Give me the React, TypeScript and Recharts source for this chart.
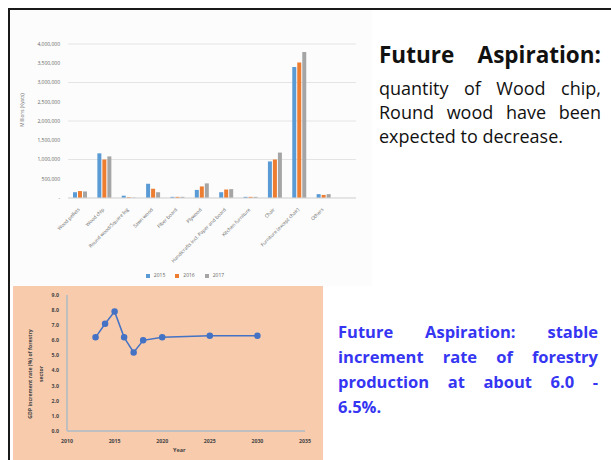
import React from 'react';
import { BarChart, Bar, XAxis, YAxis, CartesianGrid, Legend, LineChart, Line } from 'recharts';

const categories = [
  'Wood pellets',
  'Wood chip',
  'Round wood/Square log',
  'Sawn wood',
  'Fiber board',
  'Plywood',
  'Handicrafts incl. Paper and board',
  'Kitchen furniture',
  'Chair',
  'Furniture (except chair)',
  'Others',
];
const values2015 = [150000, 1160000, 60000, 370000, 30000, 210000, 150000, 30000, 950000, 3400000, 100000];
const values2016 = [180000, 1000000, 20000, 240000, 30000, 300000, 220000, 30000, 1000000, 3520000, 80000];
const values2017 = [170000, 1080000, 10000, 150000, 30000, 380000, 230000, 30000, 1180000, 3790000, 100000];
const barTicks = [0, 500000, 1000000, 1500000, 2000000, 2500000, 3000000, 3500000, 4000000];

const years = [2013, 2014, 2015, 2016, 2017, 2018, 2020, 2025, 2030];
const gdpRate = [6.2, 7.1, 7.9, 6.2, 5.2, 6.0, 6.2, 6.3, 6.3];
const yearTicks = [2010, 2015, 2020, 2025, 2030, 2035];
const rateTicks = [0, 1, 2, 3, 4, 5, 6, 7, 8, 9];

const barData = categories.map((c, i) => ({
  name: c,
  y2015: values2015[i],
  y2016: values2016[i],
  y2017: values2017[i],
}));
const lineData = years.map((y, i) => ({ year: y, rate: gdpRate[i] }));

const font = '"Open Sans", "Noto Sans", sans-serif';

const RotTick = (props: any) => {
  const { x, y, payload } = props;
  return (
    <g transform={`translate(${x},${y + 4})`}>
      <text transform="rotate(-45)" textAnchor="end" fontSize={4.8} fill="#666" fontFamily={font}>
        {payload.value}
      </text>
    </g>
  );
};

const lineStyle = (last: boolean): React.CSSProperties => ({
  textAlign: 'justify',
  textAlignLast: last ? 'left' : 'justify',
  whiteSpace: 'nowrap',
});

export default function App() {
  return (
    <div style={{ position: 'fixed', left: 0, top: 0, width: 611, height: 460, background: '#fff', overflow: 'hidden', fontFamily: font }}>
      {/* frame */}
      <div style={{ position: 'absolute', left: 8, top: 8, width: 603, height: 2, background: '#1a1a1a' }} />
      <div style={{ position: 'absolute', left: 8, top: 8, width: 2, height: 452, background: '#1a1a1a' }} />

      {/* top chart */}
      <div style={{ position: 'absolute', left: 10, top: 10, width: 362, height: 276, background: '#fcfcfc' }}>
        <BarChart
          width={362}
          height={276}
          data={barData}
          margin={{ top: 34, right: 16, left: 8, bottom: 27 }}
          barSize={4}
          barGap={1}
        >
          <CartesianGrid vertical={false} stroke="#e4e4e4" strokeWidth={1} />
          <XAxis
            dataKey="name"
            interval={0}
            tick={<RotTick />}
            tickLine={false}
            axisLine={{ stroke: '#d9d9d9' }}
            height={55}
            padding={{ left: 0, right: 20 }}
          />
          <YAxis
            width={50}
            domain={[0, 4000000]}
            ticks={barTicks}
            tickFormatter={(v: number) => (v === 0 ? '-' : v.toLocaleString('en-US'))}
            tick={{ fontSize: 5, fill: '#666', fontFamily: font }}
            tickLine={false}
            axisLine={false}
          />
          <Legend
            verticalAlign="bottom"
            align="center"
            iconSize={4}
            iconType="square"
            wrapperStyle={{ fontSize: 5, color: '#666', bottom: 8, left: 0, width: 360, fontFamily: font }}
            formatter={(v: string) => <span style={{ color: '#666' }}>{v}</span>}
          />
          <Bar dataKey="y2015" name="2015" fill="#5B9BD5" isAnimationActive={false} />
          <Bar dataKey="y2016" name="2016" fill="#ED7D31" isAnimationActive={false} />
          <Bar dataKey="y2017" name="2017" fill="#A5A5A5" isAnimationActive={false} />
        </BarChart>
        <div
          style={{
            position: 'absolute',
            left: 12,
            top: 100,
            transform: 'translate(-50%, -50%) rotate(-90deg)',
            fontSize: 4.8,
            color: '#666',
            whiteSpace: 'nowrap',
          }}
        >
          Millions (Kyats)
        </div>
      </div>

      {/* top text */}
      <div style={{ position: 'absolute', left: 379, top: 40, width: 222, color: '#111' }}>
        <div style={{ ...lineStyle(false), fontWeight: 700, fontSize: 22.5, lineHeight: '30px', marginBottom: 6 }}>Future Aspiration:</div>
        <div style={{ ...lineStyle(false), fontSize: 18, lineHeight: '24px' }}>quantity of Wood chip,</div>
        <div style={{ ...lineStyle(false), fontSize: 18, lineHeight: '24px' }}>Round wood have been</div>
        <div style={{ ...lineStyle(true), fontSize: 18, lineHeight: '24px' }}>expected to decrease.</div>
      </div>

      {/* bottom chart */}
      <div style={{ position: 'absolute', left: 13, top: 286, width: 310, height: 174, background: '#F8CBAD' }}>
        <LineChart width={310} height={174} data={lineData} margin={{ top: 9, right: 18, left: 14, bottom: 9 }}>
          <XAxis
            dataKey="year"
            type="number"
            domain={[2010, 2035]}
            ticks={yearTicks}
            tick={{ fontSize: 5.2, fill: '#444', fontWeight: 700, fontFamily: font }}
            tickLine={false}
            axisLine={{ stroke: '#BFBFBF', strokeWidth: 2 }}
            height={20}
          />
          <YAxis
            type="number"
            domain={[0, 9]}
            ticks={rateTicks}
            tickFormatter={(v: number) => v.toFixed(1)}
            tick={{ fontSize: 5.2, fill: '#444', fontWeight: 700, fontFamily: font }}
            tickLine={false}
            axisLine={{ stroke: '#BFBFBF', strokeWidth: 2 }}
            width={40}
          />
          <Line
            dataKey="rate"
            stroke="#4472C4"
            strokeWidth={1.5}
            dot={{ r: 2.5, fill: '#4472C4', stroke: '#4472C4' }}
            isAnimationActive={false}
          />
        </LineChart>
        <div style={{ position: 'absolute', left: 160, top: 160, fontSize: 5.5, fontWeight: 700, color: '#444' }}>Year</div>
        <div
          style={{
            position: 'absolute',
            left: 23,
            top: 88,
            transform: 'translate(-50%, -50%) rotate(-90deg)',
            fontSize: 5.2,
            fontWeight: 700,
            color: '#444',
            textAlign: 'center',
            lineHeight: '11px',
            whiteSpace: 'nowrap',
          }}
        >
          GDP increment rate (%) of forestry
          <br />
          sector
        </div>
      </div>

      {/* bottom text */}
      <div style={{ position: 'absolute', left: 338, top: 319, width: 260, color: '#3535F2', fontWeight: 700, fontSize: 16.5, lineHeight: '25px' }}>
        <div style={lineStyle(false)}>Future Aspiration: stable</div>
        <div style={lineStyle(false)}>increment rate of forestry</div>
        <div style={lineStyle(false)}>production at about 6.0 -</div>
        <div style={lineStyle(true)}>6.5%.</div>
      </div>
    </div>
  );
}
